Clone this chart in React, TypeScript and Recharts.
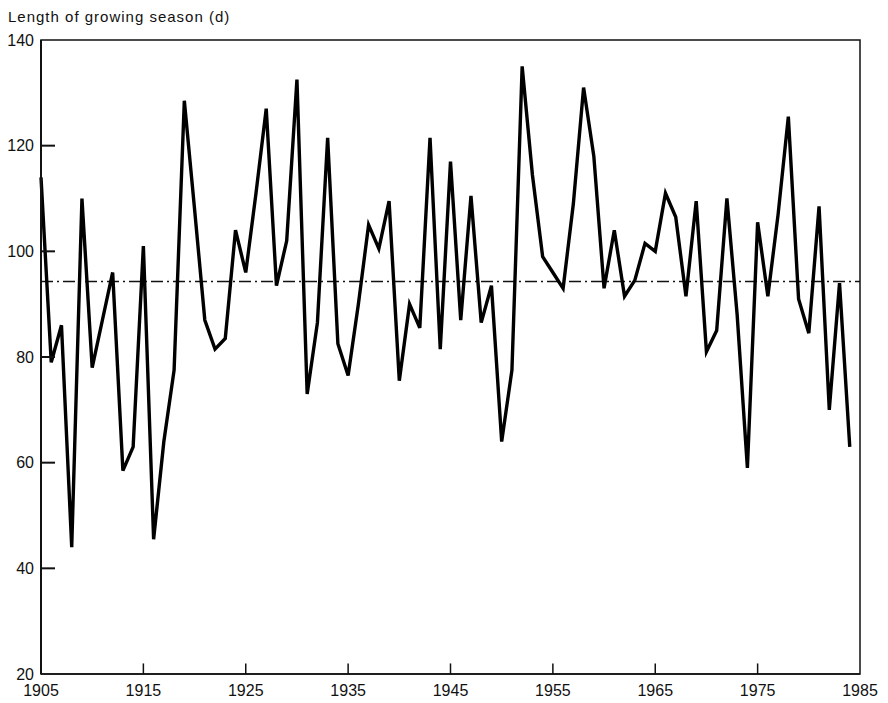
import React from "react";
import { LineChart, Line, XAxis, YAxis, ReferenceLine, ReferenceArea } from "recharts";

const years: number[] = [
  1905, 1906, 1907, 1908, 1909, 1910, 1911, 1912, 1913, 1914,
  1915, 1916, 1917, 1918, 1919, 1920, 1921, 1922, 1923, 1924,
  1925, 1926, 1927, 1928, 1929, 1930, 1931, 1932, 1933, 1934,
  1935, 1936, 1937, 1938, 1939, 1940, 1941, 1942, 1943, 1944,
  1945, 1946, 1947, 1948, 1949, 1950, 1951, 1952, 1953, 1954,
  1955, 1956, 1957, 1958, 1959, 1960, 1961, 1962, 1963, 1964,
  1965, 1966, 1967, 1968, 1969, 1970, 1971, 1972, 1973, 1974,
  1975, 1976, 1977, 1978, 1979, 1980, 1981, 1982, 1983, 1984,
];

const seasonLength: number[] = [
  114, 79, 86, 44, 110, 78, 87, 96, 58.5, 63,
  101, 45.5, 64, 77.5, 128.5, 108, 87, 81.5, 83.5, 104,
  96, 111, 127, 93.5, 102, 132.5, 73, 86.5, 121.5, 82.5,
  76.5, 90, 105, 100.5, 109.5, 75.5, 90, 85.5, 121.5, 81.5,
  117, 87, 110.5, 86.5, 93.5, 64, 77.5, 135, 114.5, 99,
  96, 93, 109, 131, 118, 93, 104, 91.5, 94.5, 101.5,
  100, 111, 106.5, 91.5, 109.5, 81, 85, 110, 88, 59,
  105.5, 91.5, 107, 125.5, 91, 84.5, 108.5, 70, 94, 63,
];

const meanLength = 94.3;
const xTicks: number[] = [1905, 1915, 1925, 1935, 1945, 1955, 1965, 1975, 1985];
const yTicks: number[] = [20, 40, 60, 80, 100, 120, 140];
const title = "Length of growing season (d)";

const data = years.map((year, i) => ({ year, value: seasonLength[i] }));

const FONT = "'Liberation Sans', Arial, sans-serif";

const YTick = (props: any) => {
  const { y, payload } = props;
  const inner = payload.value !== 20 && payload.value !== 140;
  return (
    <g>
      <text x={34} y={y} dy={5.5} textAnchor="end" fontSize={16} fontFamily={FONT} fill="#111">
        {payload.value}
      </text>
      {inner ? <rect x={41} y={y - 1} width={14} height={2} fill="#111" /> : null}
    </g>
  );
};

const XTick = (props: any) => {
  const { x, y, payload } = props;
  return (
    <text x={x} y={y} dy={12} textAnchor="middle" fontSize={16} fontFamily={FONT} fill="#111">
      {payload.value}
    </text>
  );
};

const innerXTicks: number[] = [1915, 1925, 1935, 1945, 1955, 1965, 1975];

export default function App() {
  return (
    <div style={{ position: "fixed", left: 0, top: 0, width: 888, height: 703, background: "#fff" }}>
      <svg width={888} height={30} style={{ position: "absolute", left: 0, top: 0 }}>
        <text x={8} y={22} fontSize={15} fontFamily={FONT} fill="#111" letterSpacing={1}>
          {title}
        </text>
      </svg>
      <div style={{ position: "absolute", left: 0, top: 0 }}>
        <LineChart width={888} height={703} data={data} margin={{ top: 40, right: 28, bottom: 0, left: 0 }}>
          <XAxis
            dataKey="year"
            type="number"
            domain={[1905, 1985]}
            ticks={xTicks}
            tickLine={false}
            tickSize={0}
            tickMargin={10}
            height={29}
            axisLine={{ stroke: "#111", strokeWidth: 1.5 }}
            tick={<XTick />}
            interval={0}
          />
          <YAxis
            type="number"
            domain={[20, 140]}
            ticks={yTicks}
            tickLine={false}
            tickSize={0}
            tickMargin={7}
            width={41}
            axisLine={{ stroke: "#111", strokeWidth: 2 }}
            tick={<YTick />}
            interval={0}
          />
          <ReferenceArea x1={1905} x2={1985} y1={20} y2={140} fill="none" stroke="#111" strokeWidth={1.5} />
          {innerXTicks.map((v) => (
            <ReferenceLine
              key={"x" + v}
              segment={[{ x: v, y: 20 }, { x: v, y: 22 }]}
              stroke="#111"
              strokeWidth={1.5}
            />
          ))}
          <ReferenceLine y={meanLength} stroke="#111" strokeWidth={1.5} strokeDasharray="12 4 2 4" />
          <Line
            type="linear"
            dataKey="value"
            stroke="#000"
            strokeWidth={3.4}
            dot={false}
            isAnimationActive={false}
          />
        </LineChart>
      </div>
    </div>
  );
}
